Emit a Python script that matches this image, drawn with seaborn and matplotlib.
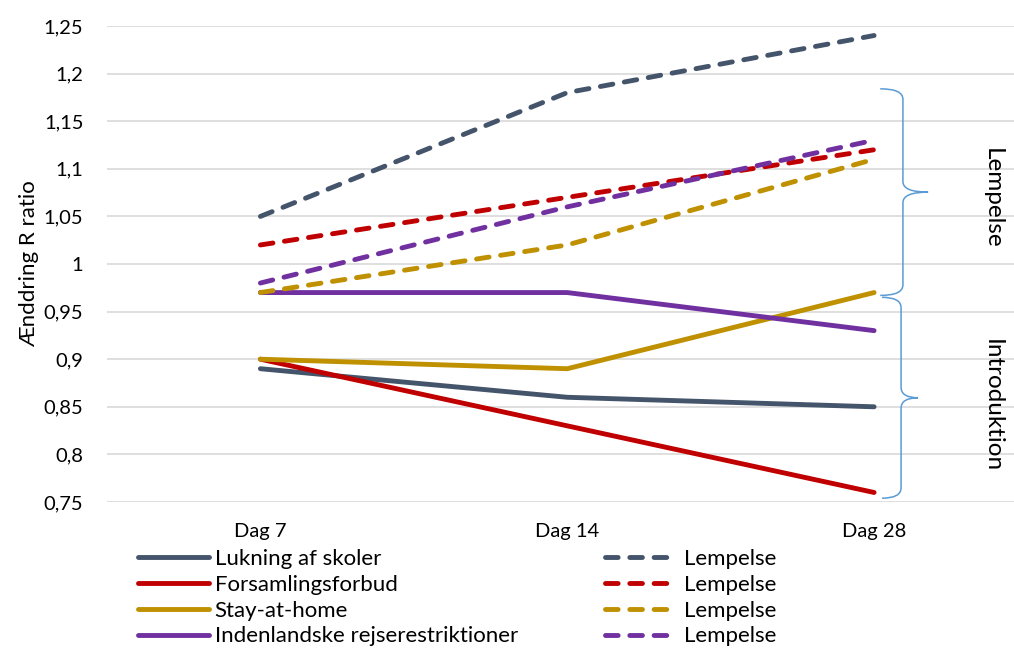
import matplotlib
matplotlib.use("Agg")
import matplotlib.pyplot as plt
from matplotlib.path import Path
from matplotlib.patches import PathPatch
from matplotlib.lines import Line2D
from matplotlib.ticker import FuncFormatter
import seaborn as sns
import pandas as pd

# Data
days = ["Dag 7", "Dag 14", "Dag 28"]
interventions = ["Lukning af skoler", "Forsamlingsforbud", "Stay-at-home",
                 "Indenlandske rejserestriktioner"]
introduction = {
    "Lukning af skoler": [0.89, 0.86, 0.85],
    "Forsamlingsforbud": [0.90, 0.83, 0.76],
    "Stay-at-home": [0.90, 0.89, 0.97],
    "Indenlandske rejserestriktioner": [0.97, 0.97, 0.93],
}
relaxation = {
    "Lukning af skoler": [1.05, 1.18, 1.24],
    "Forsamlingsforbud": [1.02, 1.07, 1.12],
    "Stay-at-home": [0.97, 1.02, 1.11],
    "Indenlandske rejserestriktioner": [0.98, 1.06, 1.13],
}
relax_label = "Lempelse"
colors = ["#44546A", "#C00000", "#BF9000", "#7030A0"]
y_ticks = [0.75, 0.80, 0.85, 0.90, 0.95, 1.00, 1.05, 1.10, 1.15, 1.20, 1.25]
# (label, lower end, upper end, label centre) of the curly braces
brace_groups = [("Lempelse", 0.967, 1.184, 1.069),
                ("Introduktion", 0.754, 0.965, 0.851)]

sns.set_theme(style="white")
plt.rcParams["font.family"] = ["Lato", "DejaVu Sans"]

fig = plt.figure(figsize=(10.14, 6.48), dpi=100)
ax = fig.add_axes([107 / 1014, 146 / 648, (1014 - 107) / 1014, 476 / 648])

lw = 3.5
dash = (2.6, 2.4)
for name, col in zip(interventions, colors):
    df_i = pd.DataFrame({"dag": days, "r": introduction[name]})
    sns.lineplot(data=df_i, x="dag", y="r", ax=ax, color=col, lw=lw,
                 solid_capstyle="round", sort=False)
for name, col in zip(interventions, colors):
    df_r = pd.DataFrame({"dag": days, "r": relaxation[name]})
    sns.lineplot(data=df_r, x="dag", y="r", ax=ax, color=col, lw=lw,
                 dashes=dash, dash_capstyle="round", sort=False)

ax.set_xlim(-0.5, 2.456)
ax.set_ylim(0.75, 1.25)
ax.set_yticks(y_ticks)
ax.yaxis.set_major_formatter(FuncFormatter(
    lambda v, p: (f"{v:.2f}".rstrip("0").rstrip(".")).replace(".", ",")))
ax.grid(axis="y", color="#D9D9D9", lw=1.2)
ax.grid(axis="x", visible=False)
ax.set_axisbelow(True)
for s in ax.spines.values():
    s.set_visible(False)
ax.tick_params(axis="y", length=0, pad=17, labelsize=14.5, labelcolor="black")
ax.tick_params(axis="x", length=0, pad=15, labelsize=14.5, labelcolor="black")
ax.set_xlabel("")
ax.set_ylabel("Ænddring R ratio", fontsize=16, color="black", labelpad=3)


def brace(ax, y0, y1, xb, xs, xt, h=0.011):
    ym = (y0 + y1) / 2
    verts = [(xb, y1), (xs, y1), (xs, y1 - h),
             (xs, ym + h), (xs, ym), (xt, ym),
             (xs, ym), (xs, ym - h),
             (xs, y0 + h), (xs, y0), (xb, y0)]
    codes = [Path.MOVETO, Path.CURVE3, Path.CURVE3,
             Path.LINETO, Path.CURVE3, Path.CURVE3,
             Path.CURVE3, Path.CURVE3,
             Path.LINETO, Path.CURVE3, Path.CURVE3]
    ax.add_patch(PathPatch(Path(verts, codes), fc="none", ec="#5B9BD5",
                           lw=1.1, clip_on=False))


brace_x = [(2.02, 2.094, 2.176), (2.026, 2.088, 2.143)]
for (label, y0, y1, yc), (xb, xs, xt) in zip(brace_groups, brace_x):
    brace(ax, y0, y1, xb, xs, xt)
    ax.text(2.384, yc, label, rotation=-90, ha="center", va="center",
            fontsize=17.5, color="black", clip_on=False)

solid_handles = [Line2D([], [], color=c, lw=lw, solid_capstyle="round")
                 for c in colors]
dash_handles = [Line2D([], [], color=c, lw=lw, dashes=(2.6, 2.4),
                       dash_capstyle="round") for c in colors]
leg_kw = dict(frameon=False, fontsize=16, labelspacing=0.26,
              borderaxespad=0, borderpad=0)
leg1 = fig.legend(solid_handles, interventions, loc="upper left",
                  bbox_to_anchor=(138 / 1014, 1 - 549 / 648),
                  handlelength=3.2, handletextpad=0.25, **leg_kw)
leg2 = fig.legend(dash_handles, [relax_label] * 4, loc="upper left",
                  bbox_to_anchor=(605 / 1014, 1 - 549 / 648),
                  handlelength=2.95, handletextpad=0.6, **leg_kw)
for leg in (leg1, leg2):
    for t in leg.get_texts():
        t.set_color("black")

fig.savefig("out.png", dpi=100)
